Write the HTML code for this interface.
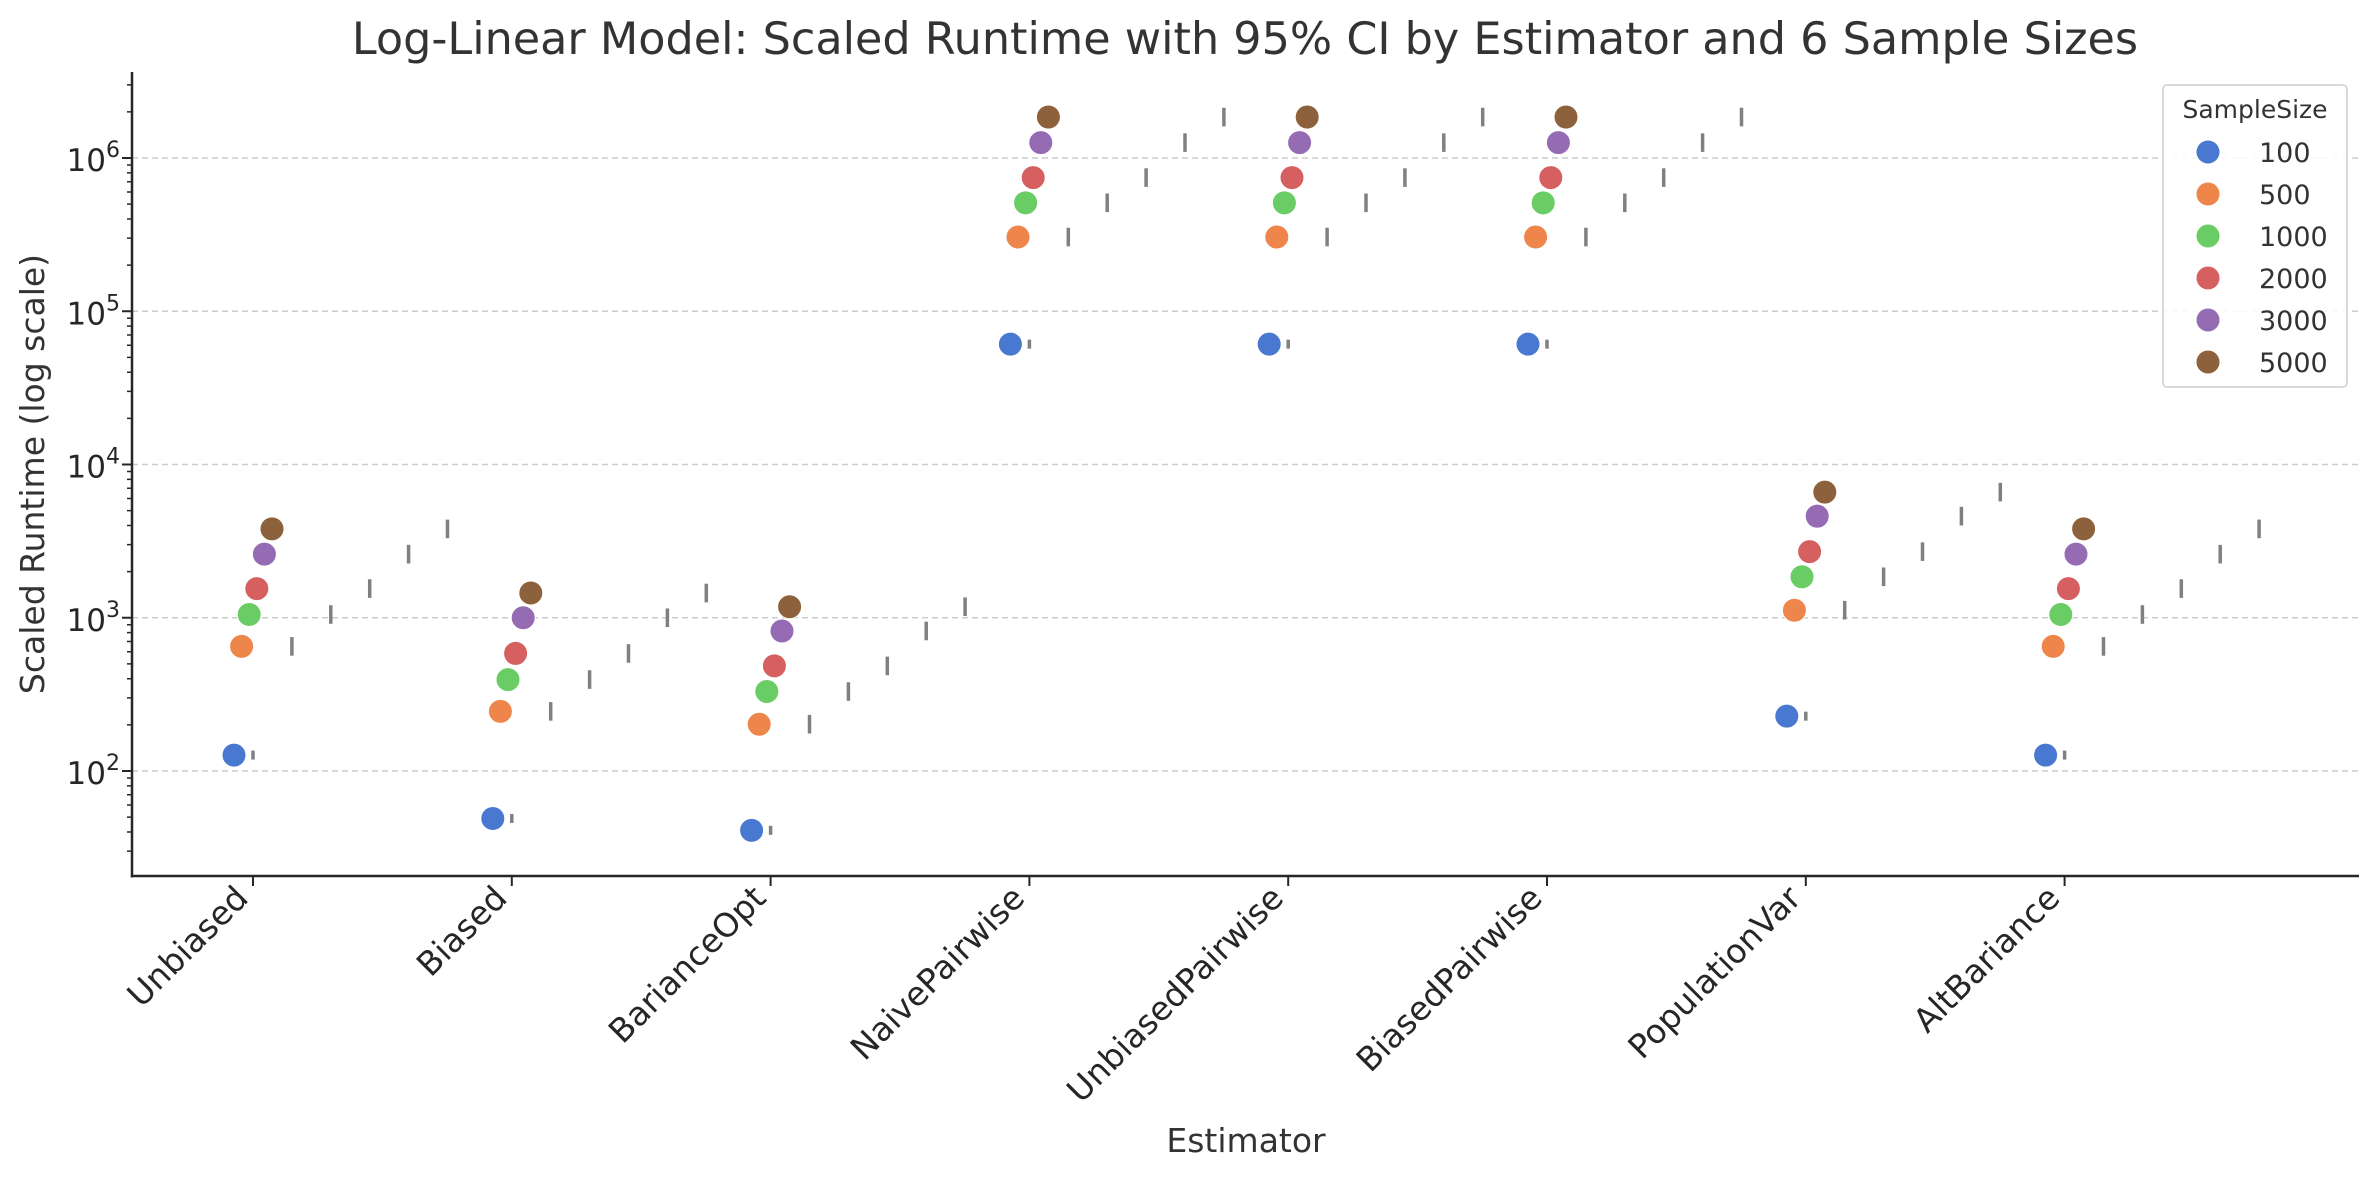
<!DOCTYPE html>
<html><head><meta charset="utf-8">
<style>
html,body{margin:0;padding:0;background:#fff;}
svg{display:block;font-family:"DejaVu Sans","Liberation Sans",sans-serif;}
</style></head>
<body>
<svg id="chart" width="2379" height="1180" viewBox="0 0 2379 1180" xmlns="http://www.w3.org/2000/svg">
<rect x="0" y="0" width="2379" height="1180" fill="#fff"/>
<text x="1245" y="54" font-size="44.5" fill="#333" text-anchor="middle">Log-Linear Model: Scaled Runtime with 95% CI by Estimator and 6 Sample Sizes</text>
<text transform="translate(44,474) rotate(-90)" font-size="33" fill="#333" text-anchor="middle">Scaled Runtime (log scale)</text>
<text x="1246" y="1152" font-size="33" fill="#333" text-anchor="middle">Estimator</text>
<g id="grid"></g>
<g id="ci"></g>
<g id="pts"></g>
<g id="axes"></g>
<g id="legend"></g>
</svg>
<script>
const categories = ["Unbiased","Biased","BarianceOpt","NaivePairwise","UnbiasedPairwise","BiasedPairwise","PopulationVar","AltBariance"];
const sampleSizes = ["100","500","1000","2000","3000","5000"];
const valUnbiased = [127, 650, 1050, 1550, 2600, 3800];
const valBiased = [49, 245, 395, 585, 1000, 1450];
const valBarianceOpt = [41, 202, 330, 485, 820, 1180];
const valNaivePairwise = [61000, 305000, 510000, 745000, 1260000, 1850000];
const valUnbiasedPairwise = [61000, 305000, 510000, 745000, 1260000, 1850000];
const valBiasedPairwise = [61000, 305000, 510000, 745000, 1260000, 1850000];
const valPopulationVar = [228, 1120, 1850, 2700, 4600, 6600];
const valAltBariance = [127, 650, 1050, 1550, 2600, 3800];
const ciFactor = [1.07, 1.15, 1.15, 1.15, 1.15, 1.15];
const yTickExps = [2, 3, 4, 5, 6];
const series = [valUnbiased,valBiased,valBarianceOpt,valNaivePairwise,valUnbiasedPairwise,valBiasedPairwise,valPopulationVar,valAltBariance];
const colors = ["#4878d0","#ee854a","#6acc64","#d65f5f","#956cb4","#8c613c"];

const NS="http://www.w3.org/2000/svg";
const L=132,R=2359,T=72,B=876;
function yS(v){return 771-(Math.log10(v)-2)*153.25;}
function xS(i){return 253+i*258.8;}
function mk(tag,attrs,parent){const e=document.createElementNS(NS,tag);for(const k in attrs)e.setAttribute(k,attrs[k]);parent.appendChild(e);return e;}
const grid=document.getElementById('grid'),ci=document.getElementById('ci'),pts=document.getElementById('pts'),axes=document.getElementById('axes'),leg=document.getElementById('legend');

yTickExps.forEach(e=>{
  const y=yS(Math.pow(10,e));
  const g=mk('line',{x1:L,x2:R,y1:y,y2:y,stroke:'#cccccc','stroke-width':1.5,'stroke-dasharray':'6,4'},grid);
  
  
});

categories.forEach((c,i)=>{
  series[i].forEach((v,j)=>{
    const x=xS(i)+j*38.9;
    const ln=mk('line',{x1:x,x2:x,y1:yS(v*ciFactor[j]),y2:yS(v/ciFactor[j]),stroke:'#808080','stroke-width':3.5},ci);
    
    
  });
  series[i].forEach((v,j)=>{
    const x=xS(i)+(j-2.5)*7.6;
    const p=mk('circle',{cx:x,cy:yS(v),r:12,fill:colors[j],stroke:'#fff','stroke-width':1},pts);
    
    
  });
});

const sp1=mk('line',{x1:L,x2:L,y1:T,y2:B+1.5,stroke:'#262626','stroke-width':2.5},axes);


const sp2=mk('line',{x1:L-1.2,x2:R,y1:B,y2:B,stroke:'#262626','stroke-width':2.5},axes);


for(let e=1;e<=6;e++){
  for(let m=1;m<=9;m++){
    const v=m*Math.pow(10,e);
    const y=yS(v);
    if(y<T||y>B)continue;
    const len=m===1?10:5;
    const t=mk('line',{x1:L-len,x2:L,y1:y,y2:y,stroke:'#262626','stroke-width':m===1?2:1.5},axes);
    
    
  }
}
yTickExps.forEach(e=>{
  const y=yS(Math.pow(10,e));
  const t=mk('text',{x:L-12,y:y+13,'font-size':31,fill:'#262626','text-anchor':'end'},axes);
  
  
  t.textContent='10';
  const s=mk('tspan',{dy:-14,'font-size':22},t);
  s.textContent=String(e);
});
categories.forEach((c,i)=>{
  const x=xS(i);
  const t=mk('line',{x1:x,x2:x,y1:B,y2:B+10,stroke:'#262626','stroke-width':2},axes);
  
  
  const lb=mk('text',{transform:'translate('+(x-3)+','+(B+24)+') rotate(-45)','font-size':33,fill:'#262626','text-anchor':'end'},axes);
  
  
  lb.textContent=c;
});

const box=mk('rect',{x:2163,y:85,width:184,height:302,rx:4,fill:'#fff','fill-opacity':0.85,stroke:'#d9d9d9','stroke-width':2},leg);


const lt=mk('text',{x:2255,y:118,'font-size':25,fill:'#333','text-anchor':'middle'},leg);


lt.textContent='SampleSize';
sampleSizes.forEach((s,j)=>{
  const y=152+j*42;
  const c=mk('circle',{cx:2208,cy:y,r:12,fill:colors[j],stroke:'#fff','stroke-width':1},leg);
  
  
  const t=mk('text',{x:2259,y:y+10,'font-size':27,fill:'#333'},leg);
  
  
  t.textContent=s;
});
</script>
</body></html>
